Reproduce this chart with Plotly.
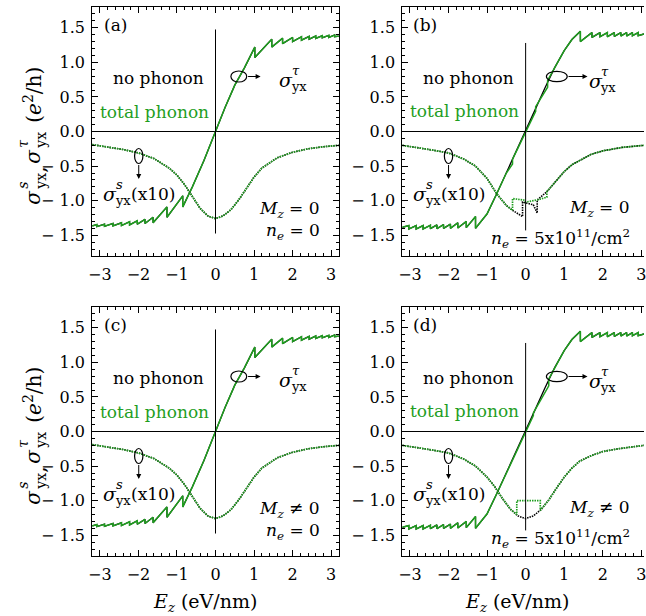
import plotly.graph_objects as go

W, H = 646, 616
GREEN = "#1f9e1f"
FONT = "DejaVu Serif"

# ---------------- data ----------------
# sigma^tau_yx, panels (a) and (c): no-phonon and total-phonon coincide
TAU_A_X = [-3.2, -3.08, -3.08, -2.88, -2.88, -2.66, -2.66, -2.44, -2.44, -2.23, -2.23,
           -2.03, -2.03, -1.83, -1.83, -1.62, -1.62, -1.26, -1.26, -0.85, -0.85, -0.6,
           -0.3, 0.0, 0.25, 0.5, 0.75, 1.02, 1.02, 1.46, 1.46, 1.74, 1.74, 2.0, 2.0,
           2.23, 2.23, 2.43, 2.43, 2.6, 2.6, 2.77, 2.77, 2.94, 2.94, 3.09, 3.09, 3.2]
TAU_A_Y = [-1.365, -1.345, -1.375, -1.34, -1.37, -1.33, -1.365, -1.32, -1.36, -1.305, -1.35,
           -1.29, -1.34, -1.27, -1.33, -1.24, -1.32, -1.09, -1.24, -0.93, -1.09, -0.8,
           -0.42, 0.0, 0.35, 0.67, 0.92, 1.22, 1.07, 1.335, 1.22, 1.35, 1.27, 1.36, 1.30,
           1.37, 1.32, 1.375, 1.335, 1.38, 1.345, 1.385, 1.355, 1.39, 1.36, 1.395, 1.37, 1.38]

# sigma^s_yx (x10), panels (a) and (c)
S_A_X = [-3.2, -2.8, -2.4, -2.0, -1.6, -1.2, -1.0, -0.8, -0.6, -0.4, -0.2, 0.0,
         0.2, 0.4, 0.6, 0.8, 1.0, 1.2, 1.6, 2.0, 2.4, 2.8, 3.2]
S_A_Y = [-0.19, -0.22, -0.26, -0.31, -0.39, -0.53, -0.63, -0.77, -0.95, -1.11, -1.22, -1.26,
         -1.22, -1.13, -0.99, -0.82, -0.66, -0.53, -0.38, -0.30, -0.25, -0.22, -0.20]

# sigma^tau_yx, panels (b) and (d), no phonon
TAU_B_X = [-3.2, -3.03, -3.03, -2.84, -2.84, -2.66, -2.66, -2.47, -2.47, -2.3, -2.3,
           -2.13, -2.13, -1.95, -1.95, -1.76, -1.76, -1.54, -1.54, -1.3, -1.3, -1.0,
           -0.75, -0.5, -0.25, 0.0, 0.25, 0.5, 0.75, 1.0, 1.2, 1.42, 1.42, 1.72, 1.72,
           1.93, 1.93, 2.12, 2.12, 2.3, 2.3, 2.47, 2.47, 2.62, 2.62, 2.77, 2.77, 2.92, 2.92, 3.07]
TAU_B_Y = [-1.385, -1.36, -1.41, -1.36, -1.41, -1.36, -1.41, -1.355, -1.405, -1.35, -1.405,
           -1.345, -1.40, -1.34, -1.40, -1.32, -1.395, -1.30, -1.39, -1.23, -1.40, -1.19,
           -0.90, -0.60, -0.30, 0.0, 0.32, 0.63, 0.92, 1.17, 1.33, 1.45, 1.30, 1.43, 1.36,
           1.43, 1.37, 1.43, 1.37, 1.43, 1.375, 1.43, 1.38, 1.43, 1.38, 1.43, 1.385, 1.43, 1.385, 1.41]

# sigma^tau_yx, panel (b), total phonon
TAU_BG_X = [-3.2, -3.03, -3.03, -2.84, -2.84, -2.66, -2.66, -2.47, -2.47, -2.3, -2.3,
            -2.13, -2.13, -1.95, -1.95, -1.76, -1.76, -1.54, -1.54, -1.3, -1.3, -1.0,
            -0.75, -0.5, -0.34, -0.34, -0.2, 0.0, 0.26, 0.26, 0.57, 0.57, 0.75, 1.0, 1.2,
            1.42, 1.42, 1.72, 1.72, 1.93, 1.93, 2.12, 2.12, 2.3, 2.3, 2.47, 2.47, 2.62, 2.62,
            2.77, 2.77, 2.92, 2.92, 3.07]
TAU_BG_Y = [-1.385, -1.36, -1.41, -1.36, -1.41, -1.36, -1.41, -1.355, -1.405, -1.35, -1.405,
            -1.345, -1.40, -1.34, -1.40, -1.32, -1.395, -1.30, -1.39, -1.23, -1.40, -1.19,
            -0.90, -0.60, -0.47, -0.40, -0.24, 0.0, 0.29, 0.36, 0.64, 0.74, 0.92, 1.17, 1.33,
            1.45, 1.30, 1.43, 1.36, 1.43, 1.37, 1.43, 1.37, 1.43, 1.375, 1.43, 1.38, 1.43, 1.38,
            1.43, 1.385, 1.43, 1.385, 1.41]

# sigma^tau_yx, panel (d), total phonon
TAU_DG_X = [-3.2, -3.03, -3.03, -2.84, -2.84, -2.66, -2.66, -2.47, -2.47, -2.3, -2.3,
            -2.13, -2.13, -1.95, -1.95, -1.76, -1.76, -1.54, -1.54, -1.3, -1.3, -1.0,
            -0.75, -0.5, -0.25, 0.0, 0.2, 0.2, 0.6, 0.6, 0.75, 1.0, 1.2,
            1.42, 1.42, 1.72, 1.72, 1.93, 1.93, 2.12, 2.12, 2.3, 2.3, 2.47, 2.47, 2.62, 2.62,
            2.77, 2.77, 2.92, 2.92, 3.07]
TAU_DG_Y = [-1.385, -1.36, -1.41, -1.36, -1.41, -1.36, -1.41, -1.355, -1.405, -1.35, -1.405,
            -1.345, -1.40, -1.34, -1.40, -1.32, -1.395, -1.30, -1.39, -1.23, -1.40, -1.19,
            -0.90, -0.60, -0.30, 0.0, 0.23, 0.27, 0.66, 0.76, 0.92, 1.17, 1.33,
            1.45, 1.30, 1.43, 1.36, 1.43, 1.37, 1.43, 1.37, 1.43, 1.375, 1.43, 1.38, 1.43, 1.38,
            1.43, 1.385, 1.43, 1.385, 1.41]

# sigma^s_yx (x10), panel (b)
S_B_X = [-3.2, -2.8, -2.4, -2.0, -1.6, -1.3, -1.0, -0.75, -0.5, -0.34, -0.08, -0.08,
         0.2, 0.3, 0.3, 0.55, 0.8, 1.0, 1.2, 1.4, 1.7, 2.0, 2.5, 3.07]
S_B_Y = [-0.2, -0.23, -0.27, -0.31, -0.4, -0.5, -0.68, -0.9, -1.07, -1.14, -1.23, -1.02,
         -1.06, -1.18, -0.99, -0.87, -0.7, -0.58, -0.48, -0.42, -0.33, -0.28, -0.23, -0.2]
S_BG_X = [-3.2, -2.8, -2.4, -2.0, -1.6, -1.3, -1.0, -0.75, -0.5, -0.34, -0.34, -0.05,
          0.0, 0.3, 0.55, 0.55, 0.8, 1.0, 1.2, 1.4, 1.7, 2.0, 2.5, 3.07]
S_BG_Y = [-0.2, -0.23, -0.27, -0.31, -0.4, -0.5, -0.68, -0.9, -1.07, -1.14, -0.97, -0.99,
          -1.02, -0.99, -0.95, -0.87, -0.7, -0.58, -0.48, -0.42, -0.33, -0.28, -0.23, -0.2]

# sigma^s_yx (x10), panel (d)
S_D_X = [-3.2, -2.8, -2.4, -2.0, -1.6, -1.3, -1.0, -0.8, -0.6, -0.4, -0.2, 0.0,
         0.2, 0.4, 0.6, 0.8, 1.0, 1.2, 1.4, 1.7, 2.0, 2.4, 2.8, 3.07]
S_D_Y = [-0.2, -0.23, -0.27, -0.31, -0.4, -0.5, -0.66, -0.8, -0.97, -1.12, -1.22, -1.26,
         -1.22, -1.13, -0.99, -0.82, -0.66, -0.53, -0.43, -0.35, -0.29, -0.25, -0.22, -0.2]
S_DG_X = [-3.2, -2.8, -2.4, -2.0, -1.6, -1.3, -1.0, -0.8, -0.6, -0.4, -0.23, -0.23,
          0.38, 0.38, 0.6, 0.8, 1.0, 1.2, 1.4, 1.7, 2.0, 2.4, 2.8, 3.07]
S_DG_Y = [-0.2, -0.23, -0.27, -0.31, -0.4, -0.5, -0.66, -0.8, -0.97, -1.12, -1.2, -1.0,
          -1.0, -1.14, -0.99, -0.82, -0.66, -0.53, -0.43, -0.35, -0.29, -0.25, -0.22, -0.2]

PANEL_TAGS = ["(a)", "(b)", "(c)", "(d)"]
MZ_TEXT = ["<i>M</i><sub><i>z</i></sub> = 0", "<i>M</i><sub><i>z</i></sub> = 0",
           "<i>M</i><sub><i>z</i></sub> \u2260 0", "<i>M</i><sub><i>z</i></sub> \u2260 0"]
NE_TEXT = ["<i>n</i><sub><i>e</i></sub> = 0",
           "<i>n</i><sub><i>e</i></sub> = 5x10<sup>11</sup>/cm<sup>2</sup>",
           "<i>n</i><sub><i>e</i></sub> = 0",
           "<i>n</i><sub><i>e</i></sub> = 5x10<sup>11</sup>/cm<sup>2</sup>"]
X_TICKS = [-3, -2, -1, 0, 1, 2, 3]
Y_TICKS = [-1.5, -1.0, -0.5, 0.0, 0.5, 1.0, 1.5]

# ---------------- figure ----------------
fig = go.Figure()

panels = [
    dict(ax="x", ay="y", tk=(TAU_A_X, TAU_A_Y), tg=(TAU_A_X, TAU_A_Y),
         sk=(S_A_X, S_A_Y), sg=(S_A_X, S_A_Y)),
    dict(ax="x2", ay="y2", tk=(TAU_B_X, TAU_B_Y), tg=(TAU_BG_X, TAU_BG_Y),
         sk=(S_B_X, S_B_Y), sg=(S_BG_X, S_BG_Y)),
    dict(ax="x3", ay="y3", tk=(TAU_A_X, TAU_A_Y), tg=(TAU_A_X, TAU_A_Y),
         sk=(S_A_X, S_A_Y), sg=(S_A_X, S_A_Y)),
    dict(ax="x4", ay="y4", tk=(TAU_B_X, TAU_B_Y), tg=(TAU_DG_X, TAU_DG_Y),
         sk=(S_D_X, S_D_Y), sg=(S_DG_X, S_DG_Y)),
]

for p in panels:
    fig.add_trace(go.Scatter(x=p["tk"][0], y=p["tk"][1], mode="lines", xaxis=p["ax"], yaxis=p["ay"],
                             line=dict(color="black", width=1.3), showlegend=False, hoverinfo="skip"))
    fig.add_trace(go.Scatter(x=p["tg"][0], y=p["tg"][1], mode="lines", xaxis=p["ax"], yaxis=p["ay"],
                             line=dict(color=GREEN, width=1.5), showlegend=False, hoverinfo="skip"))
    fig.add_trace(go.Scatter(x=p["sk"][0], y=p["sk"][1], mode="lines", xaxis=p["ax"], yaxis=p["ay"],
                             line=dict(color="black", width=1.6, dash="1.5px,1px"),
                             showlegend=False, hoverinfo="skip"))
    fig.add_trace(go.Scatter(x=p["sg"][0], y=p["sg"][1], mode="lines", xaxis=p["ax"], yaxis=p["ay"],
                             line=dict(color=GREEN, width=1.7, dash="1.5px,1px"),
                             showlegend=False, hoverinfo="skip"))

LEFT = [89 / W, 338 / W]
RIGHT = [402 / W, 1.0]
TOP = [1 - 256 / H, 1 - 7 / H]
BOT = [1 - 556 / H, 1 - 307 / H]
tickfont = dict(family=FONT, size=16, color="black")


def xaxis(dom, rng, anchor):
    return dict(domain=dom, range=rng, anchor=anchor, tickmode="array", tickvals=X_TICKS,
                ticktext=[("\u2212" + str(-v)) if v < 0 else str(v) for v in X_TICKS],
                ticks="inside", ticklen=6, tickwidth=1, tickcolor="black",
                minor=dict(dtick=0.2, tick0=0, ticks="inside", ticklen=3, tickcolor="black"),
                showline=True, linecolor="black", linewidth=1, mirror="allticks",
                showgrid=False, zeroline=False, tickfont=tickfont, ticklabelstandoff=4,
                ticklabeloverflow="allow", fixedrange=True)


def yaxis(dom, anchor, mirror):
    return dict(domain=dom, range=[-1.8, 1.8], anchor=anchor, tickmode="array", tickvals=Y_TICKS,
                ticktext=[("\u2212 %.1f" % -v) if v < 0 else "%.1f" % v for v in Y_TICKS],
                ticks="inside", ticklen=6, tickwidth=1, tickcolor="black",
                minor=dict(dtick=0.1, tick0=0, ticks="inside", ticklen=3, tickcolor="black"),
                showline=True, linecolor="black", linewidth=1, mirror=mirror,
                showgrid=False, zeroline=True, zerolinecolor="black", zerolinewidth=1,
                tickfont=tickfont, ticklabelstandoff=3, ticklabeloverflow="allow",
                fixedrange=True)


fig.update_layout(
    width=W, height=H, margin=dict(l=0, r=0, t=0, b=0),
    paper_bgcolor="white", plot_bgcolor="white", showlegend=False,
    font=dict(family=FONT, color="black"),
    xaxis=xaxis(LEFT, [-3.2, 3.2], "y"), yaxis=yaxis(TOP, "x", "allticks"),
    xaxis2=xaxis(RIGHT, [-3.2, 3.07], "y2"), yaxis2=yaxis(TOP, "x2", False),
    xaxis3=xaxis(LEFT, [-3.2, 3.2], "y3"), yaxis3=yaxis(BOT, "x3", "allticks"),
    xaxis4=xaxis(RIGHT, [-3.2, 3.07], "y4"), yaxis4=yaxis(BOT, "x4", False),
)

# vertical marker at E_z = 0
for i, p in enumerate(panels):
    lo, hi = (-1.475, 1.475) if i in (0, 2) else (-1.43, 1.28)
    fig.add_shape(type="line", xref=p["ax"], yref=p["ay"], x0=0, x1=0, y0=lo, y1=hi,
                  line=dict(color="black", width=1))


def txt(x, y, text, size=17, color="black", xanchor="center", yanchor="middle", angle=0):
    fig.add_annotation(x=x / W, y=1 - y / H, xref="paper", yref="paper", text=text,
                       showarrow=False, font=dict(family=FONT, size=size, color=color),
                       xanchor=xanchor, yanchor=yanchor, textangle=angle, borderpad=0)


def sigma(xl, yc, sup, tail=None):
    txt(xl, yc, "<i>\u03c3</i>", 19, xanchor="left")
    txt(xl + 13, yc - 10, "<i>%s</i>" % sup, 13, xanchor="left")
    txt(xl + 12, yc + 6, "yx", 13, xanchor="left")
    if tail:
        txt(xl + 28, yc, tail, 17, xanchor="left")


def ellipse(cx, cy, rx, ry):
    fig.add_shape(type="circle", xref="paper", yref="paper",
                  x0=(cx - rx) / W, x1=(cx + rx) / W, y0=1 - (cy + ry) / H, y1=1 - (cy - ry) / H,
                  line=dict(color="black", width=1.2))


def arrow(x0, y0, x1, y1):
    fig.add_annotation(x=x1 / W, y=1 - y1 / H, xref="paper", yref="paper",
                       ax=x0 - x1, ay=y0 - y1, axref="pixel", ayref="pixel", text="",
                       showarrow=True, arrowhead=2, arrowsize=1, arrowwidth=1, arrowcolor="black")


for i in range(4):
    dy = 300 if i >= 2 else 0
    if i % 2 == 0:
        txt(100, 25 + dy, PANEL_TAGS[i], 17, xanchor="left")
        txt(156, 78 + dy, "no phonon")
        txt(151.5, 112 + dy, "total phonon", color=GREEN)
        ellipse(237, 76.5 + dy, 8, 5.5)
        arrow(245, 76.5 + dy, 259, 76.5 + dy)
        sigma(277, 80 + dy, "\u03c4")
        ellipse(136, 156 + dy, 4.2, 7.5)
        arrow(136, 163.5 + dy, 136, 179 + dy)
        sigma(99, 194 + dy, "s", "(x10)")
        txt(320, 209 + dy, MZ_TEXT[i], xanchor="right")
        txt(320, 231 + dy, NE_TEXT[i], xanchor="right")
    else:
        txt(412, 25 + dy, PANEL_TAGS[i], 17, xanchor="left")
        txt(469, 78 + dy, "no phonon")
        txt(464.5, 111 + dy, "total phonon", color=GREEN)
        ellipse(558, 76.5 + dy, 10.5, 5.2)
        arrow(568.5, 76.5 + dy, 589, 76.5 + dy)
        sigma(589, 81 + dy, "\u03c4")
        ellipse(448.7, 156 + dy, 4.2, 7.5)
        arrow(448.7, 163.5 + dy, 448.7, 179 + dy)
        sigma(412, 194 + dy, "s", "(x10)")
        txt(633, 208 + dy, MZ_TEXT[i], xanchor="right")
        txt(633, 238 + dy, NE_TEXT[i], xanchor="right")

# x-axis titles
for xc in (203, 518):
    txt(xc, 602, "<i>E</i><sub><i>z</i></sub> (eV/nm)", 19)

# rotated y-axis titles, stacked super/subscripts placed piece by piece
for y0 in (197, 497):
    x0 = 29
    pieces = [  # (u along text, v across text, text, size)
        (0, 0, "<i>\u03c3</i>", 20),
        (12, -10, "<i>s</i>", 14),
        (16, 8, "yx", 14),
        (27, 5, ",", 20),
        (41, 0, "<i>\u03c3</i>", 20),
        (53, -10, "<i>\u03c4</i>", 14),
        (57, 8, "yx", 14),
        (102, 0, "(<i>e</i><sup>2</sup>/h)", 20),
    ]
    for u, v, t, s in pieces:
        txt(x0 + v, y0 - u, t, s, angle=-90)

fig.write_html("out.html")
